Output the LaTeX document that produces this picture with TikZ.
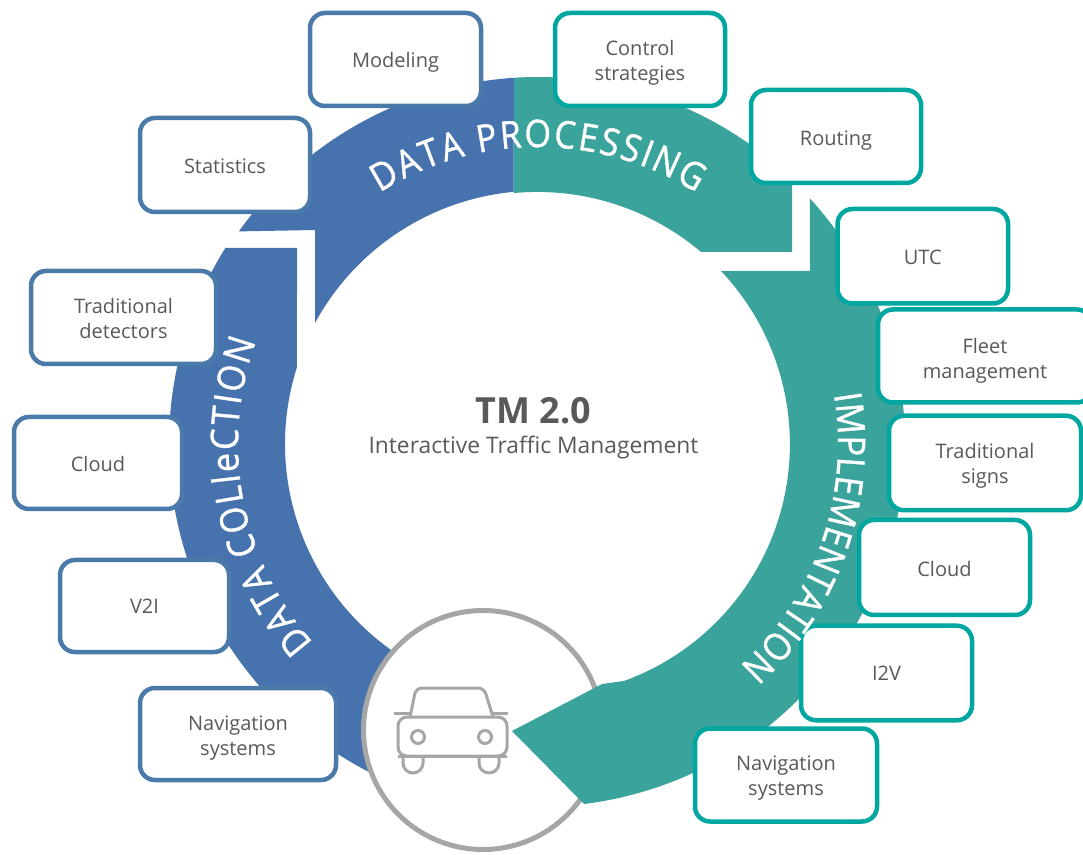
\documentclass[tikz,border=0pt]{standalone}
\usepackage{fontspec}
\setmainfont{Open Sans}
\newfontfamily\ringfont[FakeBold=1.0,FakeStretch=0.9]{Open Sans}
\usetikzlibrary{decorations.text}
\definecolor{bluefill}{HTML}{4672AE}
\definecolor{tealfill}{HTML}{3AA39B}
\definecolor{blueline}{HTML}{4A7AAA}
\definecolor{tealline}{HTML}{00A6A0}
\definecolor{inktext}{HTML}{595959}
\definecolor{cargray}{HTML}{A6A6A6}
\tikzset{
  card/.style={draw,fill=white,line width=4.5pt,rounded corners=15pt,inner sep=0pt,align=center,
    text=inktext,font=\fontsize{20}{25}\selectfont,text depth=0pt},
  bluecard/.style={card,draw=blueline},
  tealcard/.style={card,draw=tealline},
  carline/.style={draw=cargray,line width=3pt},
  ringtext/.style={decorate,decoration={text along path,text align={fit to path},text={#1}}}
}
\newcommand{\rf}{|\ringfont\fontsize{38}{38}\selectfont\color{white}|}
\begin{document}
\begin{tikzpicture}[x=1pt,y=1pt]
\useasboundingbox (0,0) rectangle (1083,854);
\clip (0,0) rectangle (1083,854);
\coordinate (C) at (538,410);
% ring
\fill[tealfill] ([shift={(C)}]93.75:367) arc[start angle=93.75,end angle=46.2,radius=367]
  -- (792,602) -- (701,602)
  arc[start angle=49.7,end angle=95.4,radius=253] -- cycle;
\fill[bluefill] ([shift={(C)}]93.75:367) arc[start angle=93.75,end angle=144.6,radius=367]
  -- (315,624) -- (315,531)
  arc[start angle=151.5,end angle=95.4,radius=253] -- cycle;
\fill[bluefill] (297,606) -- ([shift={(C)}]162.3:253)
  arc[start angle=162.3,end angle=240,radius=253]
  -- ([shift={(C)}]245:369)
  arc[start angle=245,end angle=147.9,radius=369] -- cycle;
% car disc
\node[circle,draw=cargray,fill=white,line width=5pt,minimum size=239pt,inner sep=0pt] (disc) at (483,124) {};
% lower teal arrow
\fill[tealfill] ([shift={(C)}]42.2:367 and 364) -- (810,583) -- (721,583)
  arc[start angle=43.4,end angle=-70,radius=252]
  -- (602,170) -- (512,123) -- (584,50)
  arc[start angle=-82.8,end angle=42.2,x radius=367,y radius=364] -- cycle;
% car icon
\draw[carline,rounded corners=9pt] (398,98) -- (398,137) -- (507,137) -- (507,98) -- cycle;
\draw[carline,line join=round,sharp corners] (398,98) -- (507,98);
\draw[carline,rounded corners=6pt] (410,137) -- (416,166) -- (484,166) -- (493,137);
\draw[carline] (394,141) -- (410,141) (493,141) -- (508,141);
\draw[carline] (418,117) circle[radius=6.5] (485,117) circle[radius=6.5];
\draw[carline] (403,98) -- (403,91) arc[start angle=180,end angle=360,radius=10] -- (423,98);
\draw[carline] (479,98) -- (479,91) arc[start angle=180,end angle=360,radius=10] -- (499,98);
% cards
\node[bluecard,text height=16pt,minimum width=171pt,minimum height=93pt] (modeling) at (395.5,794.5) {Modeling};
\node[bluecard,text height=18pt,minimum width=170pt,minimum height=94pt] (statistics) at (225,689) {Statistics};
\node[tealcard,text height=43pt,minimum width=170pt,minimum height=93pt] (control) at (640,794.5) {Control\\strategies};
\node[tealcard,text height=19pt,minimum width=170pt,minimum height=93pt] (routing) at (836,717.5) {Routing};
\node[tealcard,text height=17.5pt,minimum width=170.5pt,minimum height=94.5pt] (utc) at (922.75,597.75) {UTC};
\node[tealcard,text height=46pt,minimum width=214pt,minimum height=93pt] (fleet) at (985,498) {Fleet\\management};
\node[tealcard,text height=42pt,minimum width=192pt,minimum height=94.5pt] (signs) at (985,391) {Traditional\\signs};
\node[tealcard,text height=19pt,minimum width=171pt,minimum height=95pt] (cloudr) at (944.5,286.5) {Cloud};
\node[tealcard,text height=15pt,minimum width=171pt,minimum height=94.5pt] (itov) at (886.5,181) {I2V};
\node[tealcard,text height=40pt,minimum width=182pt,minimum height=93pt] (navr) at (786,79) {Navigation\\systems};
\node[bluecard,text height=43pt,minimum width=185pt,minimum height=93pt] (detectors) at (123.5,536.5) {Traditional\\detectors};
\node[bluecard,text height=18pt,minimum width=168pt,minimum height=92pt] (cloudl) at (98,391) {Cloud};
\node[bluecard,text height=15pt,minimum width=169pt,minimum height=92pt] (vtoi) at (144.5,248) {V2I};
\node[bluecard,text height=42pt,minimum width=196pt,minimum height=92pt] (navl) at (238,120) {Navigation\\systems};
% centre
\node[text=inktext,font=\fontsize{36}{36}\selectfont\bfseries,anchor=base] (title) at (533.5,430) {TM 2.0};
\node[text=inktext,font=\fontsize{22.8}{28}\selectfont,anchor=base] (subtitle) at (533.5,400.5) {Interactive Traffic Management};
% curved labels
\path[ringtext={\rf DATA PROCESSING}] ([shift={(C)}]122.2:297) arc[start angle=122.2,end angle=57.8,radius=297];
\path[ringtext={\rf DATA COLleCTION}] ([shift={(C)}]221.5:300) arc[start angle=221.5,end angle=160,radius=300];
\path[ringtext={\rf IMPLEMENTATION}] ([shift={(C)}]9.5:300) arc[start angle=9.5,end angle=-47.8,radius=300];
\end{tikzpicture}
\end{document}
